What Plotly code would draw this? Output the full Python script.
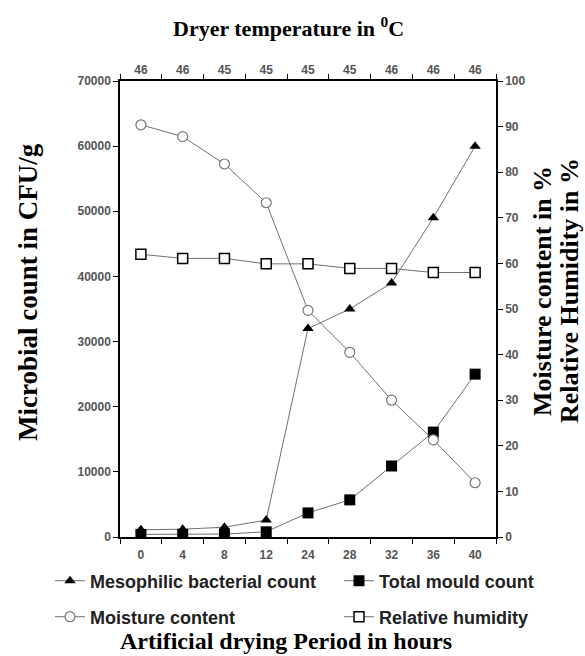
import plotly.graph_objects as go

hours = ["0", "4", "8", "12", "24", "28", "32", "36", "40"]
dryer_temp = ["46", "46", "45", "45", "45", "45", "46", "46", "46"]
mesophilic = [1100, 1200, 1500, 2600, 32000, 35000, 39000, 49000, 60000]
mould = [400, 400, 450, 800, 3700, 5700, 10900, 16100, 25000]
moisture = [90.4, 87.8, 81.8, 73.3, 49.7, 40.5, 30.0, 21.3, 11.9]
rel_humidity = [62.0, 61.1, 61.1, 59.9, 59.9, 58.9, 58.9, 58.0, 58.0]

LINE = "#707070"
fig = go.Figure()

fig.add_trace(go.Scatter(x=hours, y=mesophilic, name="Mesophilic bacterial count",
                         mode="lines+markers", line=dict(color=LINE, width=1),
                         marker=dict(symbol="triangle-up", size=10, color="black"),
                         legend="legend"))
fig.add_trace(go.Scatter(x=hours, y=mould, name="Total mould count",
                         mode="lines+markers", line=dict(color=LINE, width=1),
                         marker=dict(symbol="square", size=11, color="black"),
                         legend="legend2"))
fig.add_trace(go.Scatter(x=hours, y=moisture, name="Moisture content", yaxis="y2",
                         mode="lines+markers", line=dict(color=LINE, width=1),
                         marker=dict(symbol="circle", size=10, color="white",
                                     line=dict(color="#777", width=1.2)),
                         legend="legend3"))
fig.add_trace(go.Scatter(x=hours, y=rel_humidity, name="Relative humidity", yaxis="y2",
                         mode="lines+markers", line=dict(color=LINE, width=1),
                         marker=dict(symbol="square", size=10, color="white",
                                     line=dict(color="black", width=1.5)),
                         legend="legend4"))
# helper trace to bind the top axis
fig.add_trace(go.Scatter(x=hours, y=mesophilic, xaxis="x2", mode="markers",
                         marker=dict(opacity=0), showlegend=False, hoverinfo="skip"))

tickfont = dict(family="Liberation Sans", size=12, color="#555", weight="bold")
axis_common = dict(showline=True, linecolor="black", linewidth=1.5, ticks="outside",
                   ticklen=5, tickwidth=1.2, tickcolor="black", showgrid=False,
                   zeroline=False, tickfont=tickfont)

L, R, T, B = 120, 89, 81, 119
W, H = 585, 656
pw, ph = W - L - R, H - T - B


def px_x(x):
    return (x - L) / pw


def px_y(y):
    return (H - y - B) / ph


legend_font = dict(family="Liberation Sans", size=18, color="#222", weight="bold")


def leg(x, y):
    return dict(orientation="h", x=px_x(x), xanchor="left", y=px_y(y), yanchor="middle",
                font=legend_font, bgcolor="rgba(0,0,0,0)", borderwidth=0)


fig.update_layout(
    width=W, height=H,
    margin=dict(l=L, r=R, t=T, b=B, autoexpand=False),
    paper_bgcolor="white", plot_bgcolor="white",
    xaxis=dict(type="category", categoryorder="array", categoryarray=hours,
               range=[-0.5, 8.5], tickson="boundaries", ticklabelstandoff=6,
               **axis_common),
    xaxis2=dict(type="category", categoryorder="array", categoryarray=hours,
                range=[-0.5, 8.5], tickson="boundaries", overlaying="x", side="top",
                tickmode="array", tickvals=hours, ticktext=dryer_temp, **axis_common),
    yaxis=dict(range=[0, 70000], dtick=10000, tickformat="d", **axis_common),
    yaxis2=dict(range=[0, 100], dtick=10, overlaying="y", side="right", **axis_common),
    legend=leg(50, 581),
    legend2=leg(339, 581),
    legend3=leg(50, 617),
    legend4=leg(339, 617),
    showlegend=True,
)


def title(text, x, y, size, angle=0):
    fig.add_annotation(text="<b>" + text + "</b>", x=px_x(x), y=px_y(y),
                       xref="paper", yref="paper", xanchor="center", yanchor="middle",
                       showarrow=False, textangle=angle,
                       font=dict(family="Liberation Serif", size=size, color="black"))


title("Dryer temperature in <sup>0</sup>C", 288, 27, 22)
title("Artificial drying Period in hours", 286, 641, 24)
title("Microbial count in CFU/g", 28, 292, 27, -90)
title("Moisture content in %", 542, 291, 26, -90)
title("Relative Humidity in %", 569, 291, 26, -90)

fig.write_html("out.html")
